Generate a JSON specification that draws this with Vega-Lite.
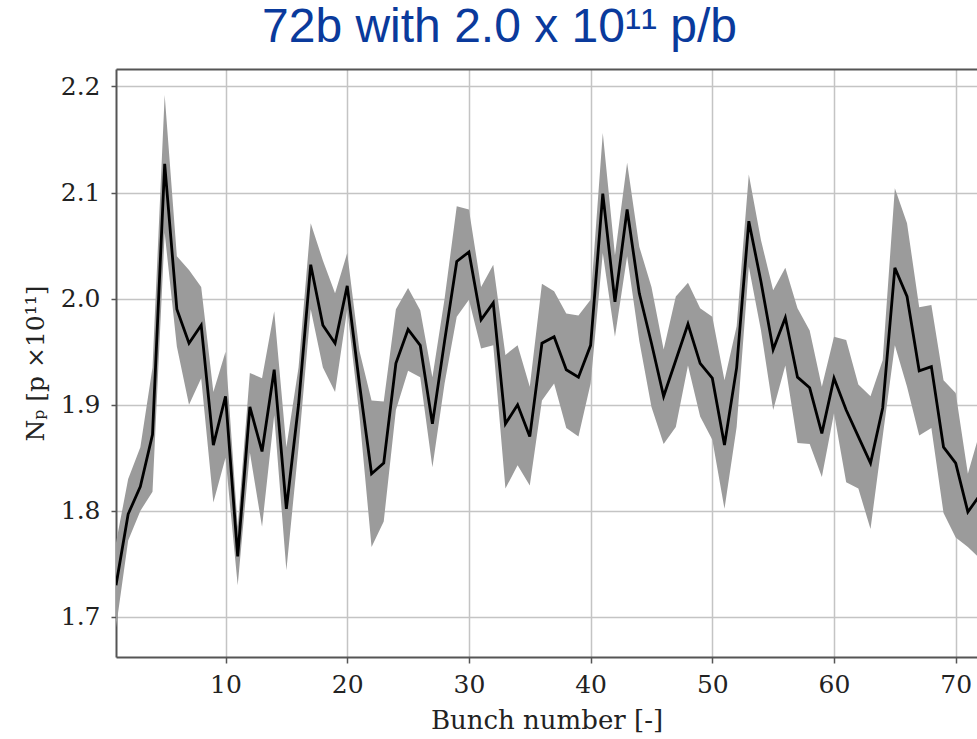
{
  "$schema": "https://vega.github.io/schema/vega-lite/v6.json",
  "width": 861,
  "height": 588,
  "autosize": {"type": "none"},
  "padding": {"left": 116, "top": 69, "right": 0, "bottom": 82},
  "background": "white",
  "title": {"text": "72b with 2.0 x 10¹¹ p/b", "font": "Liberation Sans", "fontSize": 48, "fontWeight": "normal", "color": "#0a3a9c", "anchor": "middle", "dx": -47, "dy": 43, "baseline": "alphabetic", "offset": 22},
  "config": {"view": {"stroke": null}},
  "data": {"values": [
    {"n":1,"mean":1.730,"lo":1.690,"hi":1.770},
    {"n":2,"mean":1.797,"lo":1.772,"hi":1.830},
    {"n":3,"mean":1.823,"lo":1.800,"hi":1.860},
    {"n":4,"mean":1.872,"lo":1.818,"hi":1.935},
    {"n":5,"mean":2.127,"lo":2.062,"hi":2.192},
    {"n":6,"mean":1.990,"lo":1.955,"hi":2.040},
    {"n":7,"mean":1.958,"lo":1.900,"hi":2.027},
    {"n":8,"mean":1.975,"lo":1.925,"hi":2.011},
    {"n":9,"mean":1.862,"lo":1.808,"hi":1.912},
    {"n":10,"mean":1.908,"lo":1.850,"hi":1.950},
    {"n":11,"mean":1.757,"lo":1.730,"hi":1.785},
    {"n":12,"mean":1.898,"lo":1.855,"hi":1.930},
    {"n":13,"mean":1.856,"lo":1.785,"hi":1.925},
    {"n":14,"mean":1.933,"lo":1.890,"hi":1.988},
    {"n":15,"mean":1.802,"lo":1.744,"hi":1.860},
    {"n":16,"mean":1.900,"lo":1.860,"hi":1.935},
    {"n":17,"mean":2.032,"lo":1.990,"hi":2.071},
    {"n":18,"mean":1.975,"lo":1.935,"hi":2.036},
    {"n":19,"mean":1.958,"lo":1.912,"hi":2.005},
    {"n":20,"mean":2.012,"lo":1.990,"hi":2.043},
    {"n":21,"mean":1.920,"lo":1.890,"hi":1.951},
    {"n":22,"mean":1.835,"lo":1.766,"hi":1.904},
    {"n":23,"mean":1.845,"lo":1.790,"hi":1.903},
    {"n":24,"mean":1.939,"lo":1.895,"hi":1.990},
    {"n":25,"mean":1.971,"lo":1.932,"hi":2.010},
    {"n":26,"mean":1.956,"lo":1.926,"hi":1.989},
    {"n":27,"mean":1.882,"lo":1.841,"hi":1.926},
    {"n":28,"mean":1.960,"lo":1.920,"hi":2.000},
    {"n":29,"mean":2.035,"lo":1.983,"hi":2.087},
    {"n":30,"mean":2.044,"lo":1.999,"hi":2.084},
    {"n":31,"mean":1.980,"lo":1.953,"hi":2.011},
    {"n":32,"mean":1.996,"lo":1.956,"hi":2.032},
    {"n":33,"mean":1.882,"lo":1.821,"hi":1.947},
    {"n":34,"mean":1.900,"lo":1.843,"hi":1.956},
    {"n":35,"mean":1.870,"lo":1.824,"hi":1.917},
    {"n":36,"mean":1.958,"lo":1.904,"hi":2.014},
    {"n":37,"mean":1.964,"lo":1.920,"hi":2.007},
    {"n":38,"mean":1.933,"lo":1.878,"hi":1.986},
    {"n":39,"mean":1.926,"lo":1.870,"hi":1.984},
    {"n":40,"mean":1.956,"lo":1.920,"hi":1.999},
    {"n":41,"mean":2.099,"lo":2.043,"hi":2.156},
    {"n":42,"mean":1.997,"lo":1.964,"hi":2.041},
    {"n":43,"mean":2.084,"lo":2.040,"hi":2.128},
    {"n":44,"mean":2.005,"lo":1.960,"hi":2.049},
    {"n":45,"mean":1.958,"lo":1.898,"hi":2.011},
    {"n":46,"mean":1.908,"lo":1.863,"hi":1.952},
    {"n":47,"mean":1.942,"lo":1.879,"hi":2.002},
    {"n":48,"mean":1.976,"lo":1.937,"hi":2.015},
    {"n":49,"mean":1.939,"lo":1.889,"hi":1.991},
    {"n":50,"mean":1.925,"lo":1.867,"hi":1.983},
    {"n":51,"mean":1.862,"lo":1.802,"hi":1.923},
    {"n":52,"mean":1.935,"lo":1.879,"hi":1.974},
    {"n":53,"mean":2.073,"lo":2.030,"hi":2.117},
    {"n":54,"mean":2.016,"lo":1.970,"hi":2.055},
    {"n":55,"mean":1.952,"lo":1.895,"hi":2.008},
    {"n":56,"mean":1.982,"lo":1.937,"hi":2.029},
    {"n":57,"mean":1.926,"lo":1.864,"hi":1.991},
    {"n":58,"mean":1.916,"lo":1.863,"hi":1.970},
    {"n":59,"mean":1.873,"lo":1.832,"hi":1.917},
    {"n":60,"mean":1.925,"lo":1.892,"hi":1.964},
    {"n":61,"mean":1.895,"lo":1.827,"hi":1.961},
    {"n":62,"mean":1.870,"lo":1.821,"hi":1.919},
    {"n":63,"mean":1.845,"lo":1.783,"hi":1.908},
    {"n":64,"mean":1.897,"lo":1.870,"hi":1.942},
    {"n":65,"mean":2.029,"lo":1.956,"hi":2.104},
    {"n":66,"mean":2.002,"lo":1.917,"hi":2.071},
    {"n":67,"mean":1.932,"lo":1.871,"hi":1.992},
    {"n":68,"mean":1.936,"lo":1.878,"hi":1.994},
    {"n":69,"mean":1.860,"lo":1.798,"hi":1.923},
    {"n":70,"mean":1.845,"lo":1.775,"hi":1.911},
    {"n":71,"mean":1.799,"lo":1.766,"hi":1.835},
    {"n":72,"mean":1.815,"lo":1.755,"hi":1.875}
  ]},
  "layer": [
    {
      "mark": {"type": "area", "color": "#9b9b9b", "opacity": 1, "clip": true},
      "encoding": {
        "x": {"field": "n", "type": "quantitative", "scale": {"domain": [1, 71.75], "nice": false, "zero": false},
          "axis": {"orient": "bottom", "values": [10,20,30,40,50,60,70], "title": "Bunch number [-]",
            "grid": true, "gridColor": "#c4c4c4", "gridWidth": 1.5,
            "domainColor": "#555555", "domainWidth": 2, "tickColor": "#555555", "tickWidth": 1.5, "tickSize": 6,
            "labelFont": "DejaVu Serif", "labelFontSize": 25, "labelColor": "#222222", "labelPadding": 9,
            "titleFont": "DejaVu Serif", "titleFontSize": 26, "titleFontWeight": "normal", "titleColor": "#222222", "titlePadding": 10}},
        "y": {"field": "lo", "type": "quantitative", "scale": {"domain": [1.6623, 2.2164], "nice": false, "zero": false},
          "axis": {"values": [1.7,1.8,1.9,2.0,2.1,2.2], "format": ".1f", "title": "Nₚ [p ×10¹¹]",
            "grid": true, "gridColor": "#c4c4c4", "gridWidth": 1.5,
            "domainColor": "#555555", "domainWidth": 2, "tickColor": "#555555", "tickWidth": 1.5, "tickSize": 5,
            "labelFont": "DejaVu Serif", "labelFontSize": 25, "labelColor": "#222222", "labelPadding": 11,
            "titleFont": "DejaVu Serif", "titleFontSize": 25, "titleFontWeight": "normal", "titleColor": "#222222", "titlePadding": 12}},
        "y2": {"field": "hi"}
      }
    },
    {
      "mark": {"type": "line", "color": "black", "strokeWidth": 2.8, "clip": true},
      "encoding": {
        "x": {"field": "n", "type": "quantitative",
          "axis": {"orient": "top", "labels": false, "ticks": false, "grid": false, "title": null, "domainColor": "#555555", "domainWidth": 2}},
        "y": {"field": "mean", "type": "quantitative"}
      }
    }
  ],
  "resolve": {"axis": {"x": "independent"}}
}
